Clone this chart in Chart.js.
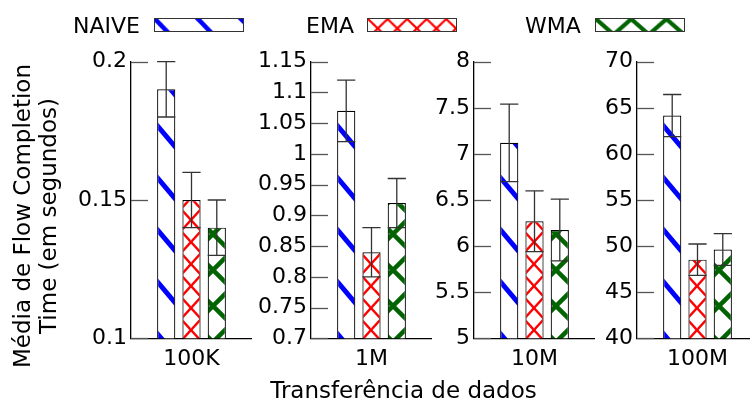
<!DOCTYPE html>
<html><head><meta charset="utf-8">
<script src="https://cdn.jsdelivr.net/npm/chart.js@4.4.1/dist/chart.umd.min.js"></script>
<style>
html,body{margin:0;padding:0;width:750px;height:403px;overflow:hidden;background:#fff;}
canvas.c{position:absolute;top:0;}
.t{position:absolute;font-family:'DejaVu Sans';color:#000;white-space:nowrap;}
.sw{position:absolute;box-sizing:border-box;border:1px solid #333;}
</style></head><body>
<script>
// ---- data ----
const categories = ['100K', '1M', '10M', '100M'];
const seriesNames = ['NAIVE', 'EMA', 'WMA'];
const naiveMean = [0.19, 1.07, 7.12, 64.16];
const naiveErr  = [0.01, 0.05, 0.42, 2.28];
const emaMean   = [0.15, 0.84, 6.27, 48.53];
const emaErr    = [0.01, 0.04, 0.33, 1.70];
const wmaMean   = [0.14, 0.92, 6.175, 49.63];
const wmaErr    = [0.01, 0.04, 0.335, 1.715];
const yMin  = [0.1, 0.7, 5, 40];
const yMax  = [0.2, 1.15, 8, 70];
const yStep = [0.05, 0.05, 0.5, 5];
const xTitle = 'Transferência de dados';
const yTitle = ['Média de Flow Completion', 'Time (em segundos)'];

const means = [naiveMean, emaMean, wmaMean];
const errs = [naiveErr, emaErr, wmaErr];

// ---- styles ----
const FONT = 'DejaVu Sans';
const plotLeft = [131, 311, 474, 637];
const plotW = 121;
const AX = 80;
const patSpec = [
  {color:'#0000ff', W:44, H:52, lw:5, cross:false},
  {color:'#ff0000', W:20, H:22, lw:2.4, cross:true},
  {color:'#006400', W:36, H:36, lw:4.5, cross:true}
];
function makePattern(s){
  const c = document.createElement('canvas');
  c.width = s.W; c.height = s.H;
  const g = c.getContext('2d');
  g.fillStyle = '#fff'; g.fillRect(0,0,s.W,s.H);
  g.strokeStyle = s.color; g.lineWidth = s.lw;
  for (let k=-1;k<=1;k++){
    g.beginPath(); g.moveTo(k*s.W - s.W, -s.H); g.lineTo(k*s.W + 2*s.W, 2*s.H); g.stroke();
    if (s.cross){ g.beginPath(); g.moveTo(k*s.W - s.W, 2*s.H); g.lineTo(k*s.W + 2*s.W, -s.H); g.stroke(); }
  }
  return g.createPattern(c, 'repeat');
}
const patterns = patSpec.map(makePattern);

const innerTicks = {
  id:'innerTicks',
  afterDraw(chart){
    const y = chart.scales.y, ctx = chart.ctx, a = chart.chartArea;
    ctx.save(); ctx.strokeStyle = '#555'; ctx.lineWidth = 1.3;
    y.ticks.forEach(t => {
      const py = Math.round(y.getPixelForValue(t.value)) + 0.5;
      ctx.beginPath(); ctx.moveTo(a.left, py); ctx.lineTo(a.left + 17, py); ctx.stroke();
    });
    ctx.restore();
  }
};
const errorBars = {
  id:'errorBars',
  afterDatasetsDraw(chart){
    const y = chart.scales.y, ctx = chart.ctx;
    ctx.save(); ctx.strokeStyle = '#333'; ctx.lineWidth = 1.3;
    chart.data.datasets.forEach((ds,k) => {
      chart.getDatasetMeta(k).data.forEach((bar,j) => {
        const v = ds.data[j], e = ds.err[j];
        const yl = y.getPixelForValue(v - e), yh = y.getPixelForValue(v + e);
        const hw = bar.width/2;
        ctx.beginPath();
        ctx.moveTo(bar.x, yl); ctx.lineTo(bar.x, yh);
        ctx.moveTo(bar.x - hw, yh); ctx.lineTo(bar.x + hw, yh);
        ctx.moveTo(bar.x - hw, yl); ctx.lineTo(bar.x + hw, yl);
        ctx.stroke();
      });
    });
    ctx.restore();
  }
};
const fmt = v => parseFloat(Number(v).toFixed(3)).toString();

categories.forEach((cat, i) => {
  const cv = document.createElement('canvas');
  cv.className = 'c';
  const W = AX + plotW;
  cv.width = W; cv.height = 403;
  cv.style.left = (plotLeft[i] - AX) + 'px';
  cv.style.width = W + 'px'; cv.style.height = '403px';
  document.body.appendChild(cv);
  new Chart(cv, {
    type:'bar',
    data:{
      labels:[cat],
      datasets: seriesNames.map((n,k) => ({
        label:n, data:[means[k][i]], err:[errs[k][i]],
        backgroundColor:patterns[k], borderColor:'#000', borderWidth:1.2,
        borderSkipped:false, categoryPercentage:0.627, barPercentage:0.72
      }))
    },
    options:{
      responsive:false, animation:false, devicePixelRatio:1,
      layout:{padding:{top:61.7, bottom:19.7, left:0, right:0}},
      plugins:{legend:{display:false}, tooltip:{enabled:false}},
      scales:{
        x:{ grid:{display:false, drawTicks:false},
            border:{display:true, color:'#000', width:1.3},
            ticks:{font:{family:FONT, size:22}, color:'#000', padding:8, maxRotation:0},
            afterFit:s => { s.height = 45; } },
        y:{ min:yMin[i], max:yMax[i],
            grid:{display:false, drawTicks:false},
            border:{display:true, color:'#000', width:1.3},
            ticks:{stepSize:yStep[i], font:{family:FONT, size:22}, color:'#000', padding:4, callback:v => fmt(v)},
            afterFit:s => { s.width = AX; } }
      }
    },
    plugins:[innerTicks, errorBars]
  });
});

// legend
const legText = [73, 306, 525];
const legBox = [154, 367, 595];
seriesNames.forEach((n,k) => {
  const d = document.createElement('div');
  d.className = 't'; d.textContent = n;
  d.style.cssText += 'left:'+legText[k]+'px;top:14.7px;font-size:22px;line-height:22px;';
  document.body.appendChild(d);
  const c = document.createElement('canvas');
  c.className = 'sw'; c.width = 90; c.height = 14;
  c.style.left = legBox[k] + 'px'; c.style.top = '17.7px';
  c.style.width = '90px'; c.style.height = '14px';
  document.body.appendChild(c);
  const g = c.getContext('2d');
  g.fillStyle = patterns[k]; g.fillRect(0,0,90,14);
});

// axis titles
const xt = document.createElement('div');
xt.className = 't'; xt.textContent = xTitle;
xt.style.cssText += 'left:403.5px;top:378.5px;font-size:23px;line-height:23px;transform:translateX(-50%);';
document.body.appendChild(xt);
const yt = document.createElement('div');
yt.className = 't';
yt.innerHTML = yTitle.map(s => '<div>'+s+'</div>').join('');
yt.style.cssText += 'left:35px;top:216px;font-size:23px;line-height:26px;text-align:center;transform:translate(-50%,-50%) rotate(-90deg);';
document.body.appendChild(yt);
</script>
</body></html>
